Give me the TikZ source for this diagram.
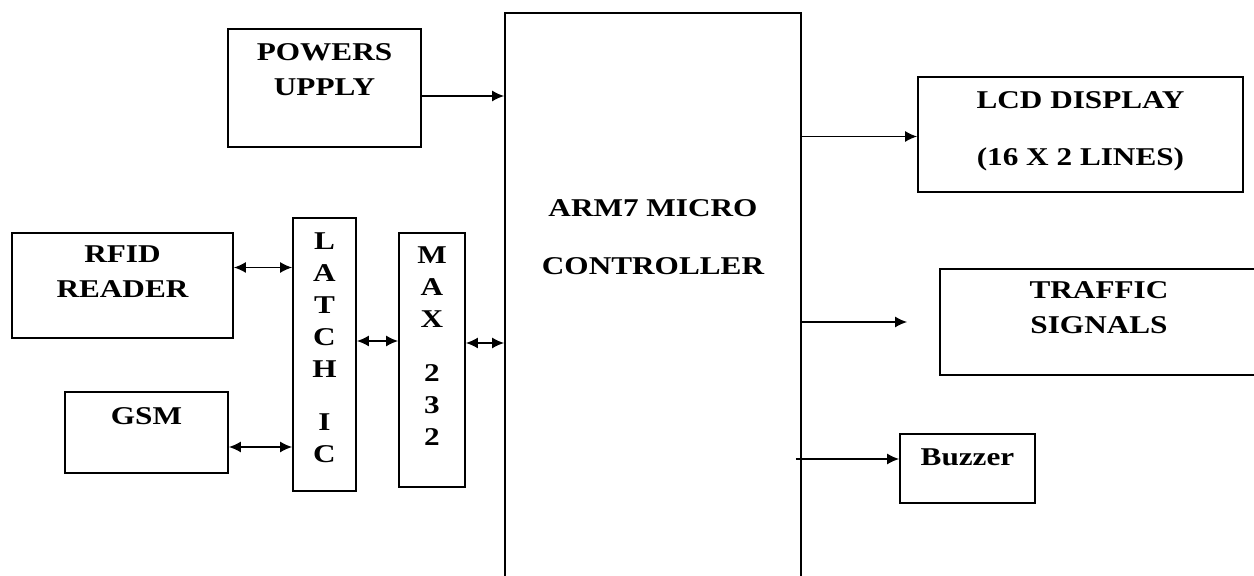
\documentclass[tikz,border=0pt]{standalone}
\usepackage{fontspec}
\setmainfont{Liberation Serif}[FakeStretch=1.22]
\usetikzlibrary{arrows.meta,positioning,calc}

\begin{document}
\begin{tikzpicture}[
  x=0.5pt,y=-0.5pt,
  every node/.style={font=\fontsize{12.8}{17.5}\selectfont\bfseries,align=center},
  block/.style={draw,line width=0.9pt,inner sep=0pt},
  lbl/.style={inner sep=0pt},
  arr/.style={-{Latex[length=6pt,width=5.5pt]},line width=0.75pt},
  biarr/.style={{Latex[length=6pt,width=5.5pt]}-{Latex[length=6pt,width=5.5pt]},line width=0.75pt}
]
\useasboundingbox (0,0) rectangle (1254,576);
\clip (0,0) rectangle (1254,576);
% blocks
\node[block,minimum width=96.5pt,minimum height=59pt] (psu) at (324.5,88) {};
\node[block,minimum width=148pt,minimum height=293.5pt] (arm) at (653,306.5) {};
\node[block,minimum width=162.5pt,minimum height=57.5pt] (lcd) at (1080.5,134.5) {};
\node[block,minimum width=159pt,minimum height=53pt] (traffic) at (1099,322) {};
\node[block,minimum width=67.5pt,minimum height=34.5pt] (buzz) at (967.5,468.5) {};
\node[block,minimum width=110.5pt,minimum height=52.5pt] (rfid) at (122.5,285.5) {};
\node[block,minimum width=81.5pt,minimum height=40.5pt] (gsm) at (146.5,432.5) {};
\node[block,minimum width=31.5pt,minimum height=136.5pt] (latch) at (324.5,354.5) {};
\node[block,minimum width=33pt,minimum height=127pt] (max) at (432,360) {};
% labels
\node[lbl,below=7.5pt of psu.north] (psutext) {POWERS\\UPPLY};
\node[lbl,below=93.5pt of arm.north,font=\fontsize{12.8}{29}\selectfont\bfseries] (armtext) {ARM7 MICRO\\CONTROLLER};
\node[lbl,below=7.5pt of lcd.north,font=\fontsize{12.8}{28.5}\selectfont\bfseries] (lcdtext) {LCD DISPLAY\\(16 X 2 LINES)};
\node[lbl,below=6.5pt of traffic.north] (traffictext) {TRAFFIC\\SIGNALS};
\node[lbl,below=7.5pt of buzz.north] (buzztext) {Buzzer};
\node[lbl,below=6.5pt of rfid.north] (rfidtext) {RFID\\READER};
\node[lbl,below=8pt of gsm.north] (gsmtext) {GSM};
\node[lbl,below=7.5pt of latch.north,font=\fontsize{12.8}{16}\selectfont\bfseries] (latchtext) {L\\A\\T\\C\\H\\[10.5pt]I\\C};
\node[lbl,below=7pt of max.north,font=\fontsize{12.8}{16}\selectfont\bfseries] (maxtext) {M\\A\\X\\[11pt]2\\3\\2};
% connectors
\draw[arr] ([yshift=-4pt]psu.east) -- ([yshift=-4pt]psu.east -| arm.west);
\draw[arr] ([yshift=-1pt]lcd.west -| arm.east) -- ([yshift=-1pt]lcd.west);
\draw[arr,shorten >=16pt] (traffic.west -| arm.east) -- (traffic.west);
\draw[arr] ([yshift=4.75pt]buzz.west -| arm.east) ++(-3pt,0) -- ([yshift=4.75pt]buzz.west);
\draw[biarr] ([yshift=9pt]rfid.east) -- ([yshift=9pt]rfid.east -| latch.west);
\draw[biarr] ([yshift=-7.25pt]gsm.east) -- ([yshift=-7.25pt]gsm.east -| latch.west);
\draw[biarr] ([yshift=6.75pt]latch.east) -- ([yshift=6.75pt]latch.east -| max.west);
\draw[biarr] ([yshift=8.5pt]max.east) -- ([yshift=8.5pt]max.east -| arm.west);
\end{tikzpicture}
\end{document}
